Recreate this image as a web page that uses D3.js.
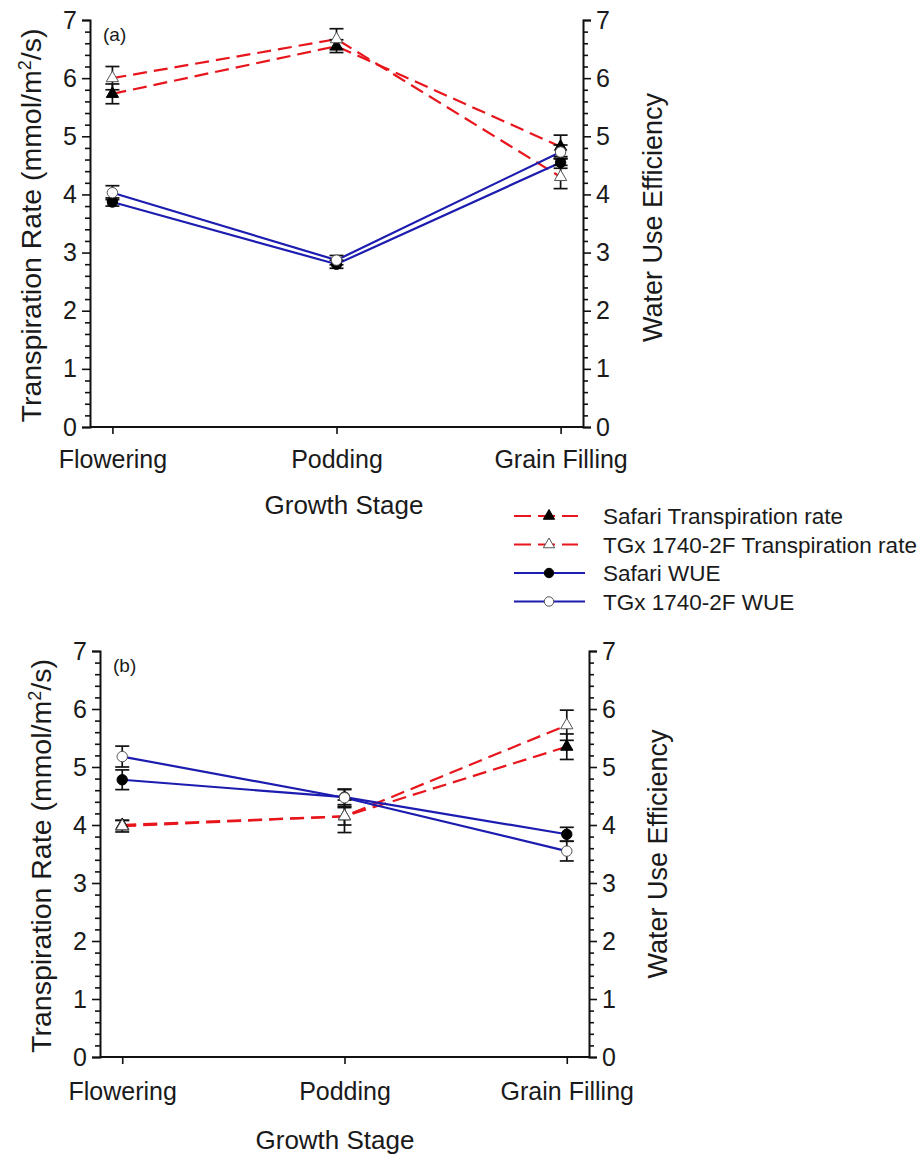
<!DOCTYPE html>
<html><head><meta charset="utf-8">
<script src="https://cdn.jsdelivr.net/npm/d3@7"></script>
<style>
body{margin:0;background:#fff;}
text{font-family:"Liberation Sans",Arial,sans-serif;fill:#1a1a1a;}
</style></head>
<body><svg id="chart" width="917" height="1155"></svg>
<script>
const categories = ["Flowering", "Podding", "Grain Filling"];
const yTicks = [0, 1, 2, 3, 4, 5, 6, 7];

// Panel (a)
const aSafariTR = [5.73, 6.55, 4.82];
const aSafariTRErr = [0.17, 0.11, 0.2];
const aTGxTR = [6.0, 6.67, 4.3];
const aTGxTRErr = [0.2, 0.18, 0.2];
const aSafariWUE = [3.87, 2.8, 4.55];
const aSafariWUEErr = [0.07, 0.07, 0.1];
const aTGxWUE = [4.03, 2.87, 4.73];
const aTGxWUEErr = [0.12, 0.08, 0.12];

// Panel (b)
const bSafariTR = [4.0, 4.15, 5.35];
const bSafariTRErr = [0.08, 0.15, 0.22];
const bTGxTR = [3.98, 4.15, 5.72];
const bTGxTRErr = [0.1, 0.28, 0.26];
const bSafariWUE = [4.78, 4.48, 3.84];
const bSafariWUEErr = [0.17, 0.13, 0.12];
const bTGxWUE = [5.18, 4.47, 3.55];
const bTGxWUEErr = [0.18, 0.15, 0.17];

const legendLabels = ["Safari Transpiration rate", "TGx 1740-2F Transpiration rate", "Safari WUE", "TGx 1740-2F WUE"];

const RED = "#e8161c", BLUE = "#1c1cb0";
const svg = d3.select("#chart");

function series(vals, errs) {
  return {vals, errs};
}
const styles = {
  safariTR: {color: RED, dash: "14,7", shape: d3.symbolTriangle, fill: "#000"},
  tgxTR: {color: RED, dash: "14,7", shape: d3.symbolTriangle, fill: "#fff"},
  safariWUE: {color: BLUE, dash: null, shape: d3.symbolCircle, fill: "#000"},
  tgxWUE: {color: BLUE, dash: null, shape: d3.symbolCircle, fill: "#fff"}
};

function drawPanel(p) {
  const g = svg.append("g");
  const x = d3.scalePoint().domain(categories).range([p.left, p.right]).padding(0.1);
  const yL = d3.scaleLinear().domain([0, 7]).range([p.bottom, p.top]);
  const yR = d3.scaleLinear().domain([0, 7]).range([p.bottom, p.top]);
  const minor = d3.range(0, 7.001, 0.2).filter(v => Math.abs(v - Math.round(v)) > 1e-6);

  const la = g.append("g").attr("transform", `translate(${p.left},0)`)
    .call(d3.axisLeft(yL).tickValues(yTicks).tickFormat(d3.format("d")).tickSize(8).tickPadding(5));
  la.append("g").call(d3.axisLeft(yL).tickValues(minor).tickFormat("").tickSize(5)).select(".domain").remove();
  const ra = g.append("g").attr("transform", `translate(${p.right},0)`)
    .call(d3.axisRight(yR).tickValues(yTicks).tickFormat(d3.format("d")).tickSize(8).tickPadding(5));
  ra.append("g").call(d3.axisRight(yR).tickValues(minor).tickFormat("").tickSize(5)).select(".domain").remove();
  const ba = g.append("g").attr("transform", `translate(0,${p.bottom})`)
    .call(d3.axisBottom(x).tickSize(7).tickPadding(p.catPad).tickSizeOuter(0));
  [la, ra, ba].forEach(a => {
    a.selectAll("path.domain").attr("stroke", "#111").attr("stroke-width", 2);
    a.selectAll("line").attr("stroke", "#111").attr("stroke-width", 1.6);
    a.selectAll("text").attr("font-size", 25).attr("fill", "#1a1a1a")
      .style("font-family", '"Liberation Sans",Arial,sans-serif');
  });
  ba.select("path.domain").attr("d", `M${p.left},0H${p.right}`);

  g.append("text").attr("x", p.xTitleX).attr("y", p.xTitleY).attr("text-anchor", "middle")
    .attr("font-size", 26).text("Growth Stage");
  const lt = g.append("text").attr("transform", `translate(${p.leftTitleX},${(p.top + p.bottom) / 2 + 2}) rotate(-90)`)
    .attr("text-anchor", "middle").attr("font-size", 28.5);
  lt.append("tspan").text("Transpiration Rate (mmol/m");
  lt.append("tspan").attr("dy", -10).attr("font-size", 18).text("2");
  lt.append("tspan").attr("dy", 10).text("/s)");
  g.append("text").attr("transform", `translate(${p.rightTitleX},${(p.top + p.bottom) / 2 + p.rightShift}) rotate(-90)`)
    .attr("text-anchor", "middle").attr("font-size", 27).text("Water Use Efficiency");
  g.append("text").attr("x", p.left + 13).attr("y", p.top + 21).attr("font-size", 19).text(p.tag);

  const order = ["safariTR", "tgxTR", "safariWUE", "tgxWUE"];
  order.forEach(k => {
    const s = p.data[k], st = styles[k];
    const sc = k.endsWith("TR") ? yL : yR;
    const line = d3.line().x((d, i) => x(categories[i])).y(d => sc(d));
    g.append("path").attr("d", line(s.vals)).attr("fill", "none")
      .attr("stroke", st.color).attr("stroke-width", 2.2)
      .attr("stroke-dasharray", st.dash);
  });
  order.forEach(k => {
    const s = p.data[k];
    const sc = k.endsWith("TR") ? yL : yR;
    s.vals.forEach((v, i) => {
      const cx = x(categories[i]), e = s.errs[i];
      const eg = g.append("g").attr("stroke", "#111").attr("stroke-width", 1.7);
      eg.append("line").attr("x1", cx).attr("x2", cx).attr("y1", sc(v - e)).attr("y2", sc(v + e));
      [v - e, v + e].forEach(c => eg.append("line").attr("x1", cx - 7).attr("x2", cx + 7).attr("y1", sc(c)).attr("y2", sc(c)));
    });
  });
  order.forEach(k => {
    const s = p.data[k], st = styles[k];
    const sc = k.endsWith("TR") ? yL : yR;
    const sym = d3.symbol().type(st.shape).size(st.shape === d3.symbolCircle ? 85 : 65);
    s.vals.forEach((v, i) => {
      g.append("path").attr("d", sym()).attr("transform", `translate(${x(categories[i])},${sc(v)})`)
        .attr("fill", st.fill).attr("stroke", st.fill === "#fff" ? "#555" : "#000").attr("stroke-width", 1);
    });
  });
}

drawPanel({
  left: 90, right: 583, top: 20, bottom: 427, tag: "(a)", catPad: 16,
  xTitleX: 344, xTitleY: 514, leftTitleX: 41, rightTitleX: 662, rightShift: -6,
  data: {
    safariTR: series(aSafariTR, aSafariTRErr), tgxTR: series(aTGxTR, aTGxTRErr),
    safariWUE: series(aSafariWUE, aSafariWUEErr), tgxWUE: series(aTGxWUE, aTGxWUEErr)
  }
});
drawPanel({
  left: 100, right: 589, top: 651, bottom: 1057, tag: "(b)", catPad: 18,
  xTitleX: 335, xTitleY: 1149, leftTitleX: 51, rightTitleX: 667, rightShift: 0,
  data: {
    safariTR: series(bSafariTR, bSafariTRErr), tgxTR: series(bTGxTR, bTGxTRErr),
    safariWUE: series(bSafariWUE, bSafariWUEErr), tgxWUE: series(bTGxWUE, bTGxWUEErr)
  }
});

const lg = svg.append("g");
const legKeys = ["safariTR", "tgxTR", "safariWUE", "tgxWUE"];
legKeys.forEach((k, i) => {
  const st = styles[k], yy = 516 + i * 28.5;
  lg.append("line").attr("x1", 514).attr("x2", k.endsWith("TR") ? 578 : 585).attr("y1", yy).attr("y2", yy)
    .attr("stroke", st.color).attr("stroke-width", 2.2).attr("stroke-dasharray", st.dash ? "17,7" : null);
  const sym = d3.symbol().type(st.shape).size(st.shape === d3.symbolCircle ? 70 : 55);
  lg.append("path").attr("d", sym()).attr("transform", `translate(549,${yy})`)
    .attr("fill", st.fill).attr("stroke", st.fill === "#fff" ? "#555" : "#000").attr("stroke-width", 1);
  lg.append("text").attr("x", 603).attr("y", yy + 8).attr("font-size", 22.5).text(legendLabels[i]);
});
</script></body></html>
